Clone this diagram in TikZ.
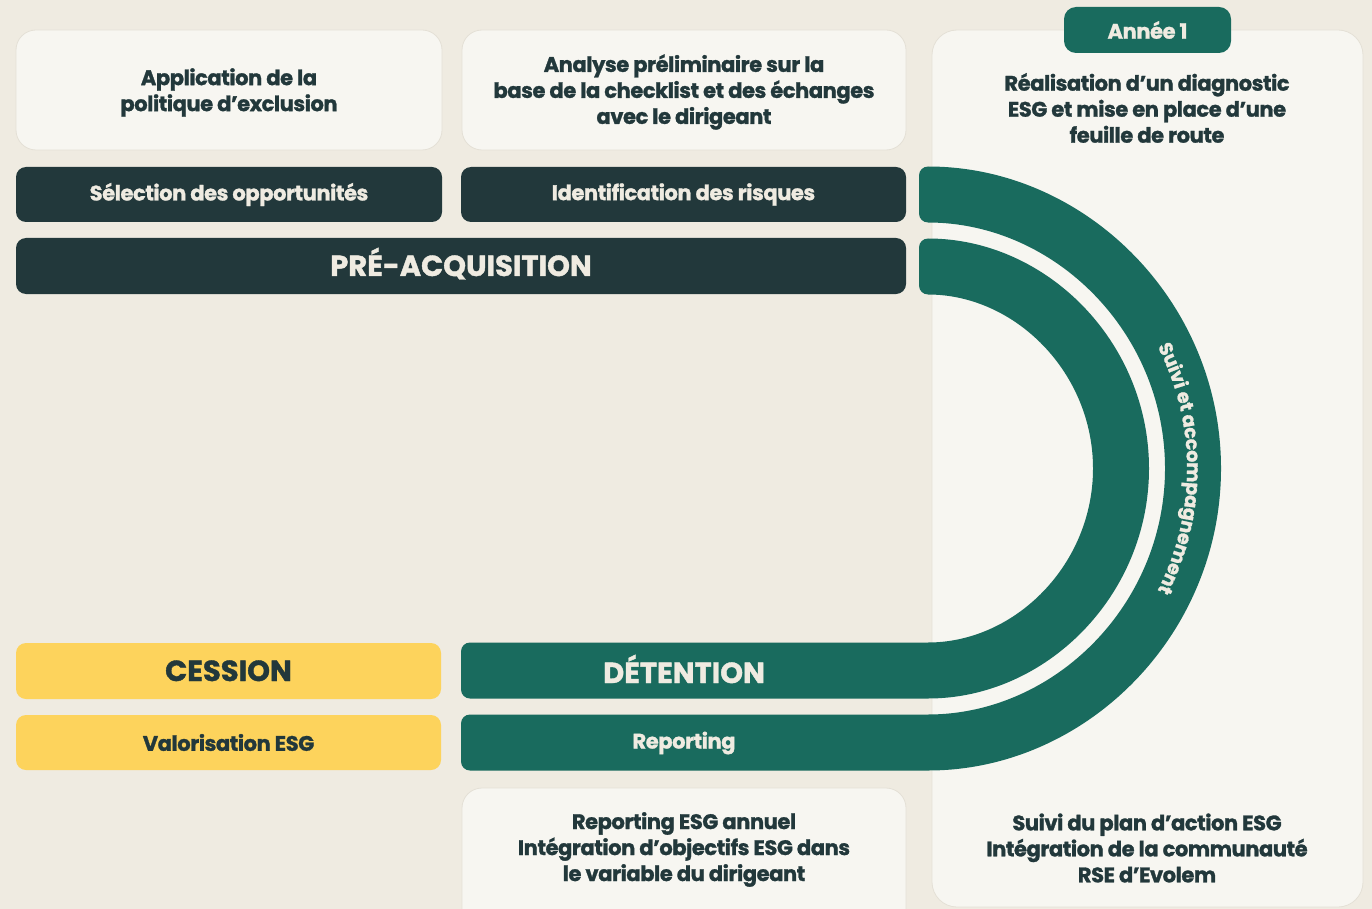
\documentclass[tikz,border=0pt]{standalone}
\usepackage{fontspec}
\setmainfont{Poppins}[LetterSpace=-2, BoldFeatures={FakeBold=1.3}]
\usetikzlibrary{decorations.text}
\definecolor{bg}{HTML}{EFEBE1}
\definecolor{panel}{HTML}{F7F6F1}
\definecolor{panelline}{HTML}{E4E0D6}
\definecolor{navy}{HTML}{22383B}
\definecolor{green}{HTML}{196B5E}
\definecolor{yellow}{HTML}{FDD35C}
\definecolor{cream}{HTML}{EFEBE1}
\tikzset{
  lightbox/.style={fill=panel, draw=panelline, line width=0.8pt, rounded corners=20pt, inner sep=0pt},
  darkbox/.style={fill=navy, rounded corners=10pt, text=cream, inner sep=0pt},
  yellowbox/.style={fill=yellow, rounded corners=10pt, text=navy, inner sep=0pt},
  txt/.style={align=center, text=navy, font=\bfseries\fontsize{21}{26}\selectfont},
  ltxt/.style={align=center, text=cream, font=\bfseries\fontsize{21}{26}\selectfont},
  bigtxt/.style={font=\bfseries\fontsize{29}{30}\selectfont\addfontfeature{LetterSpace=0}, text height=20pt, text depth=0pt},
  band/.style={fill=green, rounded corners=9pt}
}
\begin{document}
\begin{tikzpicture}[x=1pt,y=1pt]
\useasboundingbox (0,0) rectangle (1372,-909);
\fill[bg] (0,0) rectangle (1372,-909);
\clip (0,0) rectangle (1372,-909);
% panels
\node[lightbox, rounded corners=25pt, minimum width=431pt, minimum height=877pt] (rpanel) at (1147.5,-468.5) {};
\node[lightbox, minimum width=426pt, minimum height=120pt] (b1) at (229,-90) {};
\node[txt] (t1) at (229,-92.5) {Application de la\\politique d’exclusion};
\node[lightbox, minimum width=444pt, minimum height=120pt] (b2) at (684,-90) {};
\node[txt] (t2) at (684,-92) {Analyse préliminaire sur la\\base de la checklist et des échanges\\avec le dirigeant};
\node[lightbox, minimum width=444pt, minimum height=142pt] (b3) at (684,-859) {};
\node[txt] (t3) at (684,-849.5) {Reporting ESG annuel\\Intégration d’objectifs ESG dans\\le variable du dirigeant};
\node[txt] (t4) at (1147,-108) {Réalisation d’un diagnostic\\ESG et mise en place d’une\\feuille de route};
\node[txt] (t5) at (1147,-848) {Suivi du plan d’action ESG\\Intégration de la communauté\\RSE d’Evolem};
\node[fill=green, rounded corners=12pt, minimum width=167pt, minimum height=46pt, inner sep=0pt, ltxt] (annee) at (1147.5,-30) {Année 1};
% dark boxes
\node[darkbox, minimum width=426pt, minimum height=55pt, ltxt] (sel) at (229,-194.5) {Sélection des opportunités};
\node[darkbox, minimum width=445pt, minimum height=55pt, ltxt] (ident) at (683.5,-194.5) {Identification des risques};
\node[darkbox, minimum width=890pt, minimum height=56pt, ltxt, bigtxt] (pre) at (461,-266) {PRÉ-ACQUISITION};
% yellow boxes
\node[yellowbox, minimum width=425pt, minimum height=56pt, txt, bigtxt] (cession) at (228.5,-671) {CESSION};
\node[yellowbox, minimum width=425pt, minimum height=55pt, txt] (valo) at (228.5,-742.5) {Valorisation ESG};
% bands
\coordinate (C) at (919,-468.5);
\fill[band] (919,-166.5) arc (90:-90:302) -- (461,-770.5) -- (461,-714.5) -- (919,-714.5) arc (-90:90:246) -- cycle;
\fill[band] (919,-238.5) arc (90:-90:230) -- (461,-698.5) -- (461,-642.5) -- (919,-642.5) arc (-90:90:174) -- cycle;
\node[ltxt, bigtxt, text depth=0pt] (det) at (684,-673) {DÉTENTION};
\node[ltxt] (rep) at (684,-743) {Reporting};
\path[decorate, decoration={text along path, text align=center, raise=-6pt,
  text={|\bfseries\fontsize{19}{19}\selectfont\addfontfeature{LetterSpace=0}\color{cream}|Suivi et accompagnement}}]
  (C) ++(32:274) arc (32:-32:274);
\end{tikzpicture}
\end{document}
